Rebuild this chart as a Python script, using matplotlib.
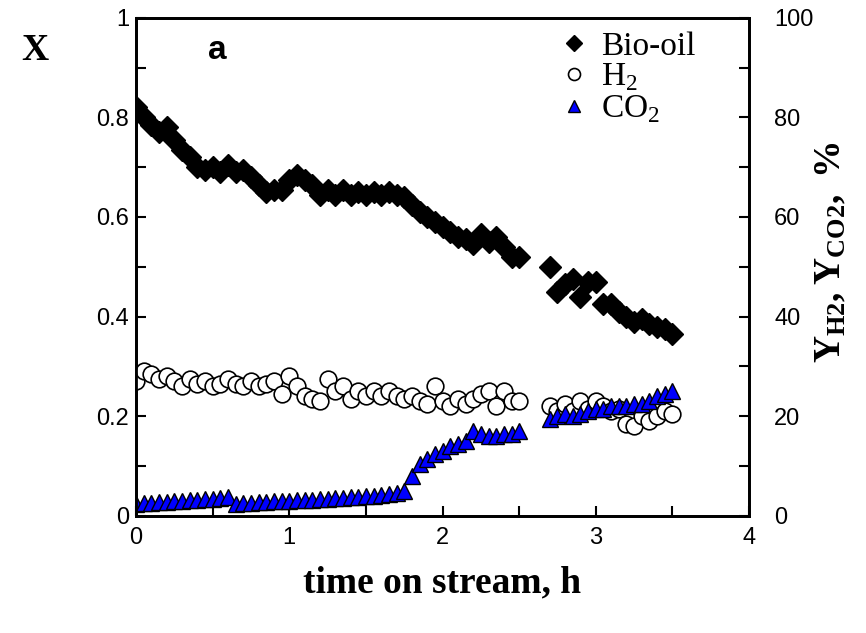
from matplotlib import pyplot as plt
from matplotlib.ticker import MultipleLocator
from matplotlib.lines import Line2D

plt.rcParams['font.family'] = ['Liberation Sans', 'DejaVu Sans']
plt.rcParams['mathtext.fontset'] = 'custom'
plt.rcParams['mathtext.rm'] = 'Liberation Serif'
plt.rcParams['mathtext.bf'] = 'Liberation Serif:bold'

# time on stream, h (two runs separated by a gap)
t_a = [0.00, 0.05, 0.10, 0.15, 0.20, 0.25, 0.30, 0.35, 0.40, 0.45,
       0.50, 0.55, 0.60, 0.65, 0.70, 0.75, 0.80, 0.85, 0.90, 0.95,
       1.00, 1.05, 1.10, 1.15, 1.20, 1.25, 1.30, 1.35, 1.40, 1.45,
       1.50, 1.55, 1.60, 1.65, 1.70, 1.75, 1.80, 1.85, 1.90, 1.95,
       2.00, 2.05, 2.10, 2.15, 2.20, 2.25, 2.30, 2.35, 2.40, 2.45, 2.50]
t_b = [2.70, 2.75, 2.80, 2.85, 2.90, 2.95, 3.00, 3.05, 3.10, 3.15,
       3.20, 3.25, 3.30, 3.35, 3.40, 3.45, 3.50]

# bio-oil conversion X
x_a = [0.82, 0.80, 0.785, 0.77, 0.78, 0.755, 0.735, 0.72, 0.70, 0.695,
       0.70, 0.69, 0.705, 0.69, 0.695, 0.68, 0.665, 0.65, 0.655, 0.655,
       0.675, 0.685, 0.675, 0.665, 0.645, 0.655, 0.645, 0.655, 0.645, 0.65,
       0.645, 0.65, 0.645, 0.65, 0.645, 0.64, 0.625, 0.61, 0.60, 0.59,
       0.58, 0.57, 0.56, 0.555, 0.545, 0.565, 0.55, 0.56, 0.54, 0.52, 0.52]
x_b = [0.50, 0.45, 0.465, 0.475, 0.44, 0.47, 0.47, 0.425, 0.425, 0.41,
       0.40, 0.39, 0.395, 0.385, 0.38, 0.375, 0.365]

# H2 yield, %
h2_a = [27, 29, 28.5, 27.5, 28, 27, 26, 27.5, 26.5, 27,
        26, 26.5, 27.5, 26.5, 26, 27, 26, 26.5, 27, 24.5,
        28, 26, 24, 23.5, 23, 27.5, 25, 26, 23.5, 25,
        24, 25, 24, 25, 24, 23.5, 24, 23, 22.5, 26,
        23, 22, 23.5, 22.5, 23.5, 24.5, 25, 22, 25, 23, 23]
h2_b = [22, 21, 22.5, 21, 23, 21.5, 23, 22, 21, 21.5,
        18.5, 18, 20, 19, 20, 21, 20.5]

# CO2 yield, %
co2_a = [2.4, 2.5, 2.6, 2.7, 2.8, 2.9, 3.0, 3.1, 3.2, 3.3,
         3.4, 3.5, 3.8, 2.4, 2.5, 2.6, 2.7, 2.8, 2.9, 3.0,
         3.0, 3.1, 3.2, 3.2, 3.3, 3.4, 3.5, 3.6, 3.7, 3.8,
         3.9, 4.0, 4.1, 4.3, 4.5, 5.0, 8.0, 10.5, 11.5, 12.5,
         13.0, 14.0, 14.5, 15.0, 17.0, 16.5, 16.0, 16.0, 16.5, 16.5, 17.0]
co2_b = [19.5, 20, 20.5, 20, 20.5, 21, 21.5, 21.5, 22, 22,
         22, 22.5, 22.5, 23, 24, 24.5, 25]

fig = plt.figure(figsize=(8.66, 6.33), dpi=100)
ax = fig.add_axes([0.157, 0.185, 0.708, 0.787])
ax2 = ax.twinx()

diamond = dict(marker='D', ms=11, color='black', ls='none')
circle = dict(marker='o', ms=12, mfc='white', mec='black', mew=1.2, ls='none')
tri = dict(marker='^', ms=12, mfc='#0000ff', mec='black', mew=1.0, ls='none')

ax.plot(t_a, x_a, **diamond)
ax.plot(t_b, x_b, **diamond)
ax2.plot(t_a, h2_a, **circle)
ax2.plot(t_b, h2_b, **circle)
ax2.plot(t_a, co2_a, **tri)
ax2.plot(t_b, co2_b, **tri)

ax.set_xlim(0, 4)
ax.set_ylim(0, 1)
ax2.set_ylim(0, 100)

ax.xaxis.set_major_locator(MultipleLocator(1))
ax.xaxis.set_minor_locator(MultipleLocator(0.5))
ax.yaxis.set_major_locator(MultipleLocator(0.2))
ax.yaxis.set_minor_locator(MultipleLocator(0.1))
ax2.yaxis.set_major_locator(MultipleLocator(20))
ax2.yaxis.set_minor_locator(MultipleLocator(10))
ax.set_yticks([0, 0.2, 0.4, 0.6, 0.8, 1.0], ['0', '0.2', '0.4', '0.6', '0.8', '1'])

for a in (ax, ax2):
    a.tick_params(which='both', direction='in', length=7, width=1.5,
                  labelsize=17, pad=5)
    for s in a.spines.values():
        s.set_linewidth(2)
ax.tick_params(axis='x', pad=8)
ax2.tick_params(axis='y', pad=18)

ax.set_xlabel('time on stream, h', family='Liberation Serif',
              fontweight='bold', fontsize=27, labelpad=12)
fig.text(0.04, 0.92, 'X', family='Liberation Serif', fontweight='bold',
         fontsize=27, ha='center', va='center')
ax.text(0.133, 0.935, 'a', transform=ax.transAxes, fontweight='bold',
        fontsize=24, ha='center', va='center')
ax2.set_ylabel(r'$\mathbf{Y_{H2}, Y_{CO2},}$ %', family='Liberation Serif',
               fontweight='bold', fontsize=27, labelpad=0)
ax2.yaxis.label.set_position((1, 0.53))

handles = [Line2D([], [], **diamond), Line2D([], [], **circle),
           Line2D([], [], **tri)]
ax2.legend(handles, ['Bio-oil', r'H$_2$', r'CO$_2$'], loc='upper right',
           bbox_to_anchor=(0.95, 1.02), frameon=False,
           prop={'family': 'Liberation Serif', 'size': 24},
           handletextpad=0.3, labelspacing=0.0, borderaxespad=0.3,
           handlelength=1.0, markerscale=0.72)

fig.savefig('out.png', dpi=100)
